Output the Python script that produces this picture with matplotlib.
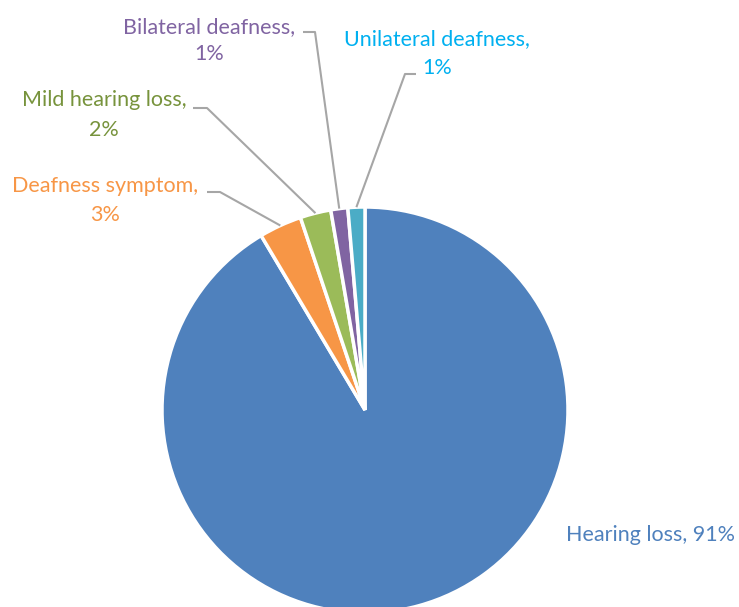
import numpy as np
import matplotlib.pyplot as plt

# slices, clockwise from 12 o'clock
labels = ["Hearing loss", "Deafness symptom", "Mild hearing loss",
          "Bilateral deafness", "Unilateral deafness"]
values = [91.45, 3.4, 2.45, 1.35, 1.35]
colors = ["#4F81BD", "#F79646", "#9BBB59", "#8064A2", "#4BACC6"]
text_colors = ["#4F81BD", "#F79646", "#77933C", "#8064A2", "#00B0F0"]

plt.rcParams['font.family'] = ['Lato', 'DejaVu Sans']

W, H = 739, 607
fig = plt.figure(figsize=(W / 100, H / 100), dpi=100)
ax = fig.add_axes([0, 0, 1, 1])

cx, cy, r = 365, H - 410, 203
wedges, _ = ax.pie(values, colors=colors, startangle=90, counterclock=False,
                   center=(cx, cy), radius=r, frame=True,
                   wedgeprops=dict(edgecolor='white', linewidth=2.5))
ax.set_xlim(0, W)
ax.set_ylim(0, H)
ax.set_aspect('equal')
ax.axis('off')

pct = [f"{round(v / sum(values) * 100):d}%" for v in values]

fs = 15.5
lead_col = "#A6A6A6"

# Hearing loss: single line, no leader
ax.text(651, H - 535, f"{labels[0]}, {pct[0]}", color=text_colors[0],
        fontsize=fs, ha='center', va='center')

# text centre x, line 1 y, line 2 y, leader elbow points (pixels from top)
layout = {
    1: (105, 186, 215, (207, 192), (220, 192)),
    2: (104, 100, 130, (193, 108), (207, 108)),
    3: (209, 27, 54, (303, 32), (315, 32)),
    4: (437, 39, 68, (416, 74), (405, 74)),
}
for i, (tx, y1, y2, p0, p1) in layout.items():
    ax.text(tx, H - y1, labels[i] + ",", color=text_colors[i], fontsize=fs,
            ha='center', va='center')
    ax.text(tx, H - y2, pct[i], color=text_colors[i], fontsize=fs,
            ha='center', va='center')
    w = wedges[i]
    mid = np.radians((w.theta1 + w.theta2) / 2)
    ex = cx + r * np.cos(mid)
    ey = cy + r * np.sin(mid)
    ax.plot([p0[0], p1[0], ex], [H - p0[1], H - p1[1], ey],
            color=lead_col, linewidth=1.5, solid_capstyle='butt')

fig.savefig("out.png", dpi=100)
